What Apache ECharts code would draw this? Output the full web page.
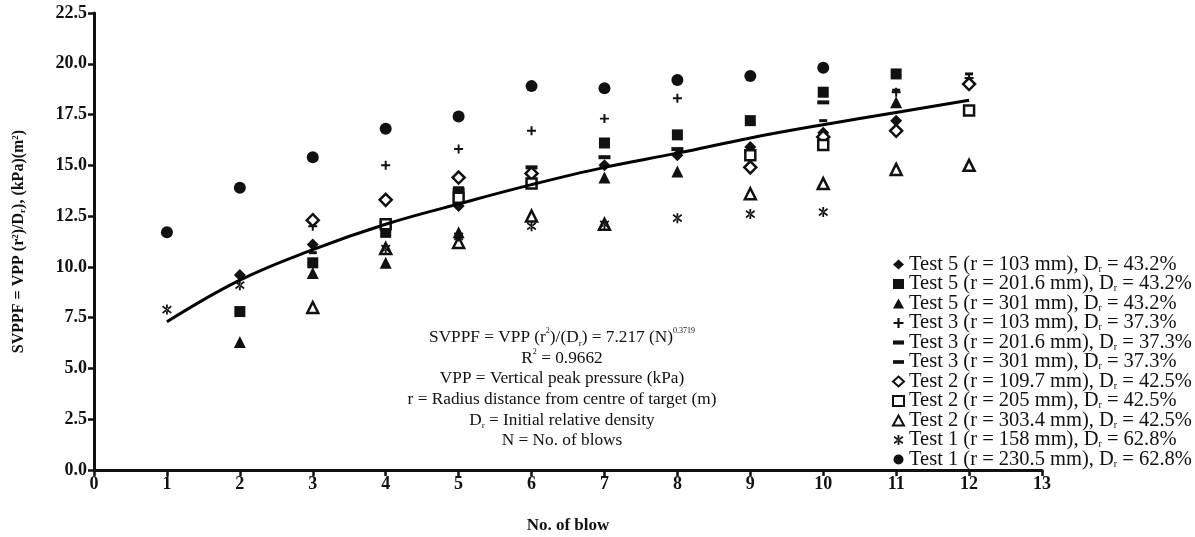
<!DOCTYPE html>
<html>
<head>
<meta charset="utf-8">
<script src="https://cdn.jsdelivr.net/npm/echarts@6/dist/echarts.min.js"></script>
<style>
  html, body { margin: 0; padding: 0; background: #fff; }
  #chart { width: 1195px; height: 537px; }
</style>
</head>
<body>
<div id="chart"></div>
<script>
// values, one per blow (null = no visible point)
const blows = [1, 2, 3, 4, 5, 6, 7, 8, 9, 10, 11, 12];
const xTicks = [0, 1, 2, 3, 4, 5, 6, 7, 8, 9, 10, 11, 12, 13];
const yTicks = [0, 2.5, 5, 7.5, 10, 12.5, 15, 17.5, 20, 22.5];

const test5_103 = [null, 9.6, 11.1, null, 13.0, null, 15.0, 15.5, 15.9, 16.6, 17.2, null];
const test5_201 = [null, 7.8, 10.2, 11.7, 13.7, null, 16.1, 16.5, 17.2, 18.6, 19.5, null];
const test5_301 = [null, 6.3, 9.7, 10.2, 11.7, null, 14.4, 14.7, null, null, 18.1, null];
const test3_103 = [null, null, 12.0, 15.0, 15.8, 16.7, 17.3, 18.3, 15.9, null, 18.6, 19.3];
const test3_201 = [null, null, 10.7, null, null, null, null, null, null, 17.2, 18.7, 19.5];
const test3_301 = [null, null, null, 12.2, 13.8, 14.9, 15.4, 15.8, null, 18.1, null, null];
const test2_110 = [null, null, 12.3, 13.3, 14.4, 14.6, null, null, 14.9, 16.4, 16.7, 19.0];
const test2_205 = [null, null, null, 12.1, 13.4, 14.1, null, null, 15.5, 16.0, null, 17.7];
const test2_303 = [null, null, 8.0, 10.9, 11.2, 12.5, 12.1, null, 13.6, 14.1, 14.8, 15.0];
const test1_158 = [7.9, 9.1, null, 10.9, 11.5, 12.0, 12.1, 12.4, 12.6, 12.7, null, null];
const test1_230 = [11.7, 13.9, 15.4, 16.8, 17.4, 18.9, 18.8, 19.2, 19.4, 19.8, null, null];
// power fit curve as drawn in the figure
const fitCurve = [7.3, 9.35, 10.85, 12.1, 13.1, 14.05, 14.9, 15.6, 16.35, 17.0, 17.6, 18.2];

const FONT = '"Liberation Serif", "DejaVu Serif", serif';
const plus = 'path://M3.9,0H6.1V3.9H10V6.1H6.1V10H3.9V6.1H0V3.9H3.9Z';
const star = 'path://M4.1,0H5.9V10H4.1Z M0.2,2.4L1.1,0.9L9.8,7.6L8.9,9.1Z M0.2,7.6L1.1,9.1L9.8,2.4L8.9,0.9Z';
const dashSmall = 'path://M0,0H8V3H0Z';
const dashBig = 'path://M0,0H12V4H0Z';

const groups = [
    { name: 'Test 5 (r = 103 mm), D_r = 43.2%', data: test5_103, symbol: 'diamond', size: 12, open: false },
    { name: 'Test 5 (r = 201.6 mm), D_r = 43.2%', data: test5_201, symbol: 'rect', size: 11, open: false },
    { name: 'Test 5 (r = 301 mm), D_r = 43.2%', data: test5_301, symbol: 'triangle', size: 12, open: false },
    { name: 'Test 3 (r = 103 mm), D_r = 37.3%', data: test3_103, symbol: plus, size: 9, open: false },
    { name: 'Test 3 (r = 201.6 mm), D_r = 37.3%', data: test3_201, symbol: dashSmall, size: 8, open: false },
    { name: 'Test 3 (r = 301 mm), D_r = 37.3%', data: test3_301, symbol: dashBig, size: 12, open: false },
    { name: 'Test 2 (r = 109.7 mm), D_r = 42.5%', data: test2_110, symbol: 'diamond', size: 12, open: true },
    { name: 'Test 2 (r = 205 mm), D_r = 42.5%', data: test2_205, symbol: 'rect', size: 10, open: true },
    { name: 'Test 2 (r = 303.4 mm), D_r = 42.5%', data: test2_303, symbol: 'triangle', size: 11, open: true },
    { name: 'Test 1 (r = 158 mm), D_r = 62.8%', data: test1_158, symbol: star, size: 10, open: false },
    { name: 'Test 1 (r = 230.5 mm), D_r = 62.8%', data: test1_230, symbol: 'circle', size: 12, open: false }
];

const series = groups.map(function (g) {
    return {
        name: g.name,
        type: 'scatter',
        symbol: g.symbol,
        symbolSize: g.size,
        symbolKeepAspect: true,
        itemStyle: g.open
            ? { color: '#fff', borderColor: '#111', borderWidth: 2.5, opacity: 1 }
            : { color: '#111', opacity: 1 },
        data: blows.map(function (n, i) { return [n, g.data[i]]; })
                   .filter(function (p) { return p[1] !== null; })
    };
});

series.unshift({
    name: 'fit',
    type: 'line',
    smooth: 0.4,
    showSymbol: false,
    lineStyle: { color: '#000', width: 3 },
    data: blows.map(function (n, i) { return [n, fitCurve[i]]; })
});

const chart = echarts.init(document.getElementById('chart'));
chart.setOption({
    animation: false,
    backgroundColor: '#fff',
    textStyle: { fontFamily: FONT },
    grid: { left: 94, top: 13, right: 153, bottom: 67, containLabel: false, outerBoundsMode: 'none' },
    legend: {
        data: groups.map(function (g) { return g.name; }),
        orient: 'vertical',
        left: 887,
        top: 249,
        itemWidth: 11,
        itemHeight: 10,
        itemGap: -1.5,
        formatter: function (name) { return name.replace('D_r', 'D{sub|r}'); },
        textStyle: {
            fontFamily: FONT, fontSize: 20.5, color: '#111', lineHeight: 19.5,
            rich: { sub: { fontFamily: FONT, fontSize: 10, verticalAlign: 'bottom', lineHeight: 12 } }
        }
    },
    xAxis: {
        type: 'value',
        min: 0, max: 13, interval: 1,
        name: 'No. of blow',
        nameLocation: 'middle',
        nameGap: 47,
        nameTextStyle: { fontFamily: FONT, fontSize: 17, fontWeight: 'bold', color: '#111' },
        axisLine: { lineStyle: { color: '#111', width: 3 } },
        axisTick: { length: 6, lineStyle: { color: '#111', width: 2.5 } },
        axisLabel: { fontFamily: FONT, fontSize: 18, fontWeight: 'bold', color: '#111', margin: 5,
            formatter: function (v) { return xTicks.indexOf(v) >= 0 ? String(v) : ''; } },
        splitLine: { show: false }
    },
    yAxis: {
        type: 'value',
        min: 0, max: 22.5, interval: 2.5,
        name: 'SVPPF = VPP (r{sup|2})/D{sub|r}), (kPa)(m{sup|2})',
        nameLocation: 'middle',
        nameGap: 67,
        nameRotate: 90,
        nameTextStyle: {
            fontFamily: FONT, fontSize: 16, fontWeight: 'bold', color: '#111',
            rich: {
                sup: { fontFamily: FONT, fontSize: 9, fontWeight: 'bold', verticalAlign: 'top', lineHeight: 12 },
                sub: { fontFamily: FONT, fontSize: 9, fontWeight: 'bold', verticalAlign: 'bottom', lineHeight: 12 }
            }
        },
        axisLine: { show: true, lineStyle: { color: '#111', width: 3 } },
        axisTick: { show: true, length: 6, lineStyle: { color: '#111', width: 2.5 } },
        axisLabel: { fontFamily: FONT, fontSize: 18, fontWeight: 'bold', color: '#111', margin: 7,
            formatter: function (v) { return yTicks.indexOf(v) >= 0 ? v.toFixed(1) : ''; } },
        splitLine: { show: false }
    },
    graphic: [{
        type: 'text',
        x: 562,
        y: 327,
        style: {
            text: [
                'SVPPF = VPP (r{sup|2})/(D{sub|r}) = 7.217 (N){sup|0.3719}',
                'R{sup|2} = 0.9662',
                'VPP = Vertical peak pressure (kPa)',
                'r = Radius distance from centre of target (m)',
                'D{sub|r} = Initial relative density',
                'N = No. of blows'
            ].join('\n'),
            font: '17.3px ' + FONT,
            fill: '#111',
            textAlign: 'center',
            lineHeight: 20.7,
            rich: {
                sup: { fontSize: 8, fontFamily: FONT, verticalAlign: 'top', lineHeight: 20.7, padding: [0, 0, 10, 0] },
                sub: { fontSize: 9, fontFamily: FONT, verticalAlign: 'bottom', lineHeight: 20.7 }
            }
        }
    }],
    series: series
});
</script>
</body>
</html>
